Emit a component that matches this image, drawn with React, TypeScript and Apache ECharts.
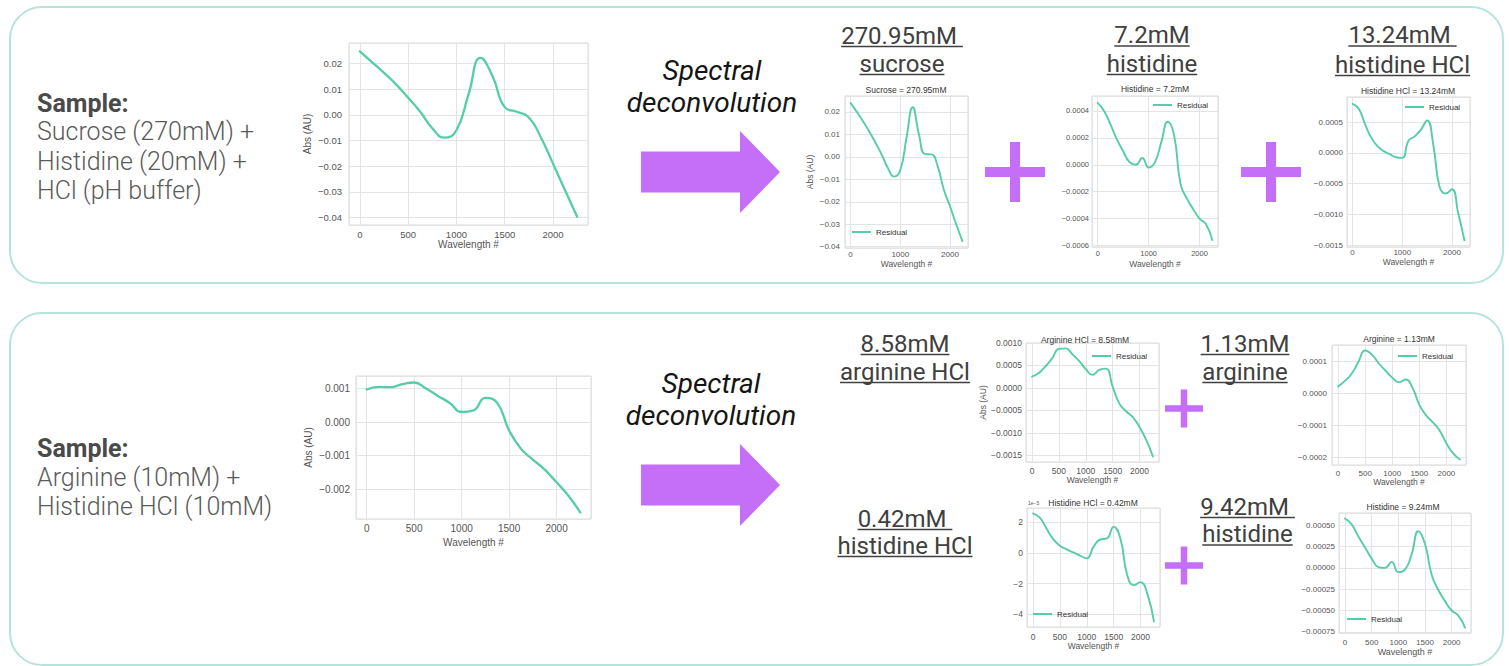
import React, { useEffect, useRef } from 'react';
import * as echarts from 'echarts';

// ---------------- data ----------------
const WAVELENGTHS = [0, 125, 250, 375, 500, 625, 750, 875, 1000, 1125, 1250, 1375, 1500, 1625, 1750, 1875, 2000, 2125, 2250];

// Sample 1: sucrose + histidine + HCl (measured absorbance, AU)
const SAMPLE1_ABS = [0.0248, 0.0206, 0.0164, 0.0119, 0.0067, 0.0012, -0.0052, -0.0089, -0.0060, 0.0080, 0.0222, 0.0150, 0.0030, 0.0012, -0.0010, -0.0088, -0.0190, -0.0294, -0.0397];
const SUCROSE_270_95 = [0.0240, 0.0200, 0.0158, 0.0113, 0.0063, 0.0010, -0.0050, -0.0088, -0.0060, 0.0085, 0.0221, 0.0100, 0.0012, 0.0011, -0.0040, -0.0145, -0.0220, -0.0300, -0.0375];
const HISTIDINE_7_2 = [0.00046, 0.00040, 0.00030, 0.00019, 0.00010, 0.00002, 0.00000, 0.00005, -0.00002, 0.00002, 0.00017, 0.00032, 0.00022, -0.00014, -0.00025, -0.00033, -0.00040, -0.00044, -0.00056];
const HISTIDINE_HCL_13_24 = [0.00080, 0.00072, 0.00047, 0.00025, 0.00011, 0.00003, -0.00002, -0.00007, -0.00008, 0.00020, 0.00027, 0.00038, 0.00053, 0.00013, -0.00055, -0.00066, -0.00059, -0.00098, -0.00142];

// Sample 2: arginine + histidine HCl
const SAMPLE2_ABS = [0.00097, 0.00105, 0.00104, 0.00113, 0.00118, 0.00100, 0.00078, 0.00057, 0.00030, 0.00035, 0.00072, 0.00057, -0.00025, -0.00080, -0.00112, -0.00142, -0.00180, -0.00220, -0.00270];
const ARGININE_HCL_8_58 = [0.00025, 0.00033, 0.00048, 0.00066, 0.00087, 0.00088, 0.00075, 0.00060, 0.00042, 0.00029, 0.00040, 0.00043, 0.00003, -0.00035, -0.00052, -0.00065, -0.00087, -0.00116, -0.00153];
const ARGININE_1_13 = [0.000022, 0.000040, 0.000062, 0.000100, 0.000135, 0.000122, 0.000095, 0.000072, 0.000050, 0.000036, 0.000044, 0.000018, -0.000035, -0.000068, -0.000090, -0.000115, -0.000155, -0.000187, -0.000206];
// in units of 1e-5 AU (axis offset text "1e-5")
const HISTIDINE_HCL_0_42_E5 = [2.58, 2.3, 1.6, 0.9, 0.47, 0.24, 0.04, -0.17, -0.35, 0.4, 0.88, 0.95, 1.7, 0.95, -1.4, -2.1, -1.9, -2.65, -4.47];
const HISTIDINE_9_24 = [0.00058, 0.00051, 0.00037, 0.00024, 0.00011, 0.00001, 0.00000, 0.00007, -0.00005, -0.00002, 0.00016, 0.00043, 0.00028, -0.00008, -0.00026, -0.00039, -0.00050, -0.00056, -0.00070];

const SAMPLE1_LINES = ['Sucrose (270mM) +', 'Histidine (20mM) +', 'HCl (pH buffer)'];
const SAMPLE2_LINES = ['Arginine (10mM) +', 'Histidine HCl (10mM)'];

// ---------------- styles / layout ----------------
const LINE_COLOR = '#55cda8';
const PANEL_COLOR = '#b5e4dc';
const ARROW_COLOR = '#c56ef7';
const GRID_COLOR = '#e4e4e4';
const TICK_COLOR = '#555555';
const CHART_FONT = "'Liberation Sans', Arial, sans-serif";
const UI_FONT = 'Roboto, sans-serif';

type Spec = {
  values: number[];
  grid: { left: number; top: number; width: number; height: number };
  xStep: number; yStep: number; yDec: number;
  font: number; nameFont: number; lw: number;
  title?: string; titleX?: number; titleY?: number;
  legend?: { x: number; y: number };
  yNameCx?: number;
  xNameGap: number; xLabelMargin: number; yLabelMargin: number;
};

const CHARTS: Spec[] = [
  { values: SAMPLE1_ABS, grid: { left: 349, top: 43, width: 239, height: 182 }, xStep: 500, yStep: 0.01, yDec: 2, font: 9.5, nameFont: 10, lw: 2.3, yNameCx: 307.5, xNameGap: 14, xLabelMargin: 4, yLabelMargin: 7 },
  { values: SUCROSE_270_95, grid: { left: 845, top: 96, width: 123, height: 152 }, xStep: 1000, yStep: 0.01, yDec: 2, font: 8, nameFont: 8.5, lw: 1.9, title: 'Sucrose = 270.95mM', titleX: 906, titleY: 90, legend: { x: 852, y: 233 }, yNameCx: 810, xNameGap: 11, xLabelMargin: 2, yLabelMargin: 5 },
  { values: HISTIDINE_7_2, grid: { left: 1092, top: 96, width: 126, height: 151 }, xStep: 1000, yStep: 0.0002, yDec: 4, font: 7.5, nameFont: 8.5, lw: 1.9, title: 'Histidine = 7.2mM', titleX: 1155, titleY: 89, legend: { x: 1153, y: 106 }, xNameGap: 12, xLabelMargin: 2, yLabelMargin: 3 },
  { values: HISTIDINE_HCL_13_24, grid: { left: 1347, top: 97, width: 123, height: 150 }, xStep: 1000, yStep: 0.0005, yDec: 4, font: 8, nameFont: 8.5, lw: 1.9, title: 'Histidine HCl = 13.24mM', titleX: 1408, titleY: 91, legend: { x: 1405, y: 108 }, xNameGap: 8, xLabelMargin: 1.5, yLabelMargin: 4 },
  { values: SAMPLE2_ABS, grid: { left: 356, top: 376, width: 235, height: 143 }, xStep: 500, yStep: 0.001, yDec: 3, font: 10, nameFont: 10, lw: 2.3, yNameCx: 308, xNameGap: 18, xLabelMargin: 4, yLabelMargin: 6 },
  { values: ARGININE_HCL_8_58, grid: { left: 1026, top: 343, width: 133, height: 119 }, xStep: 500, yStep: 0.0005, yDec: 4, font: 8.5, nameFont: 8.5, lw: 1.9, title: 'Arginine HCl = 8.58mM', titleX: 1085, titleY: 340, legend: { x: 1092, y: 357 }, yNameCx: 1003, xNameGap: 11, xLabelMargin: 4, yLabelMargin: 4 },
  { values: ARGININE_1_13, grid: { left: 1332, top: 345, width: 134, height: 120 }, xStep: 500, yStep: 0.0001, yDec: 4, font: 8, nameFont: 8.5, lw: 1.9, title: 'Arginine = 1.13mM', titleX: 1399, titleY: 339, legend: { x: 1398, y: 357 }, xNameGap: 12, xLabelMargin: 4, yLabelMargin: 5 },
  { values: HISTIDINE_HCL_0_42_E5, grid: { left: 1027, top: 508, width: 133, height: 119 }, xStep: 500, yStep: 2, yDec: 0, font: 8.5, nameFont: 8.5, lw: 1.9, title: 'Histidine HCl = 0.42mM', titleX: 1093, titleY: 503, legend: { x: 1033, y: 615 }, xNameGap: 12, xLabelMargin: 5, yLabelMargin: 4 },
  { values: HISTIDINE_9_24, grid: { left: 1339, top: 513, width: 132, height: 120 }, xStep: 500, yStep: 0.00025, yDec: 5, font: 8, nameFont: 9, lw: 1.9, title: 'Histidine = 9.24mM', titleX: 1403, titleY: 507, legend: { x: 1347, y: 620 }, xNameGap: 14, xLabelMargin: 5, yLabelMargin: 4 },
];

const UNDERLINED = [
  { lines: ['270.95mM ', 'sucrose'], cx: 902, baselines: [44, 72] },
  { lines: ['7.2mM', 'histidine'], cx: 1152, baselines: [43.5, 72] },
  { lines: ['13.24mM ', 'histidine HCl'], cx: 1402.5, baselines: [43.5, 73] },
  { lines: ['8.58mM', 'arginine HCl'], cx: 905, baselines: [352, 380] },
  { lines: ['1.13mM', 'arginine'], cx: 1245, baselines: [352, 380] },
  { lines: ['0.42mM ', 'histidine HCl'], cx: 905, baselines: [527, 554] },
  { lines: ['9.42mM ', 'histidine'], cx: 1247.5, baselines: [515, 542.5] },
];

const tickFmt = (step: number, dec: number) => (v: number) => {
  const k = v / step;
  if (Math.abs(k - Math.round(k)) > 1e-6) return '';
  let r = Math.round(k) * step;
  if (Math.abs(r) < step * 1e-6) r = 0;
  return r.toFixed(dec).replace('-', '\u2212');
};

function measure(text: string, font: string): number {
  const c = document.createElement('canvas').getContext('2d');
  if (!c) return text.length * 12;
  c.font = font;
  return c.measureText(text).width;
}

function text(x: number, y: number, t: string, o: any = {}) {
  const align = o.align || 'left';
  return {
    type: 'text', x, y, silent: true, z: 10,
    style: {
      text: t, fill: o.fill || '#555', fontSize: o.fontSize || 24, fontFamily: o.fontFamily || UI_FONT,
      fontWeight: o.fontWeight || 'normal', fontStyle: o.fontStyle || 'normal',
      align, textAlign: align, verticalAlign: 'middle', textVerticalAlign: 'middle',
    },
  };
}

function buildOption() {
  const span = WAVELENGTHS[WAVELENGTHS.length - 1] - WAVELENGTHS[0];
  const xMin = WAVELENGTHS[0] - 0.05 * span;
  const xMax = WAVELENGTHS[WAVELENGTHS.length - 1] + 0.05 * span;
  const grid: any[] = [], xAxis: any[] = [], yAxis: any[] = [], series: any[] = [], title: any[] = [], legend: any[] = [];

  CHARTS.forEach((c, i) => {
    const lo = Math.min(...c.values), hi = Math.max(...c.values);
    const pad = (hi - lo) * 0.05;
    grid.push({ ...c.grid, show: true, borderColor: '#d8d8d8', borderWidth: 1, backgroundColor: '#ffffff' });
    xAxis.push({
      type: 'value', gridIndex: i, min: xMin, max: xMax, minInterval: c.xStep, maxInterval: c.xStep,
      axisLine: { show: false }, axisTick: { show: false },
      splitLine: { show: true, lineStyle: { color: GRID_COLOR, width: 1 } },
      axisLabel: { fontSize: c.font, color: TICK_COLOR, fontFamily: CHART_FONT, margin: c.xLabelMargin, showMinLabel: false, showMaxLabel: false, formatter: tickFmt(c.xStep, 0) },
      name: 'Wavelength #', nameLocation: 'middle', nameGap: c.xNameGap,
      nameTextStyle: { fontSize: c.nameFont, color: TICK_COLOR, fontFamily: CHART_FONT },
    });
    yAxis.push({
      type: 'value', gridIndex: i, min: lo - pad, max: hi + pad, minInterval: c.yStep, maxInterval: c.yStep,
      axisLine: { show: false }, axisTick: { show: false },
      splitLine: { show: true, lineStyle: { color: GRID_COLOR, width: 1 } },
      axisLabel: { fontSize: c.font, color: TICK_COLOR, fontFamily: CHART_FONT, margin: c.yLabelMargin, showMinLabel: false, showMaxLabel: false, formatter: tickFmt(c.yStep, c.yDec) },
      name: c.yNameCx != null ? 'Abs (AU)' : '', nameLocation: 'middle', nameRotate: 90,
      nameGap: c.yNameCx != null ? c.grid.left - c.yNameCx - c.nameFont / 2 : 0,
      nameTextStyle: { fontSize: c.nameFont, color: TICK_COLOR, fontFamily: CHART_FONT },
    });
    series.push({
      type: 'line', name: 'Residual', xAxisIndex: i, yAxisIndex: i, silent: true,
      data: WAVELENGTHS.map((w, k) => [w, c.values[k]]),
      smooth: 0.5, showSymbol: false, symbol: 'none',
      lineStyle: { color: LINE_COLOR, width: c.lw, cap: 'round', join: 'round' }, itemStyle: { color: LINE_COLOR },
    });
    if (c.title) {
      title.push({
        text: c.title, left: c.titleX, top: (c.titleY as number) - 5, textAlign: 'center', padding: 0,
        textStyle: { fontSize: 8.5, fontWeight: 'normal', color: '#333', fontFamily: CHART_FONT },
      });
    }
    if (c.legend) {
      legend.push({
        data: ['Residual'], left: c.legend.x, top: c.legend.y - 5, padding: 0, selectedMode: false,
        icon: 'rect', itemWidth: 19, itemHeight: 2,
        textStyle: { fontSize: 8, color: '#333', fontFamily: CHART_FONT },
      });
    }
  });

  const g: any[] = [];
  // panels
  g.push({ type: 'rect', shape: { x: 10, y: 7, width: 1493, height: 276, r: 32 }, style: { fill: 'none', stroke: PANEL_COLOR, lineWidth: 2 }, silent: true, z: 0 });
  g.push({ type: 'rect', shape: { x: 10, y: 313, width: 1493, height: 352, r: 32 }, style: { fill: 'none', stroke: PANEL_COLOR, lineWidth: 2 }, silent: true, z: 0 });
  // arrows
  [172, 485].forEach((cy) => {
    g.push({
      type: 'polygon', silent: true, z: 5,
      shape: { points: [[641, cy - 20.5], [740, cy - 20.5], [740, cy - 41], [780, cy], [740, cy + 41], [740, cy + 20.5], [641, cy + 20.5]] },
      style: { fill: ARROW_COLOR },
    });
  });
  // plus signs
  const plus = (cx: number, cy: number, arm: number, th: number) => {
    g.push({ type: 'rect', silent: true, z: 5, shape: { x: cx - arm, y: cy - th / 2, width: arm * 2, height: th }, style: { fill: ARROW_COLOR } });
    g.push({ type: 'rect', silent: true, z: 5, shape: { x: cx - th / 2, y: cy - arm, width: th, height: arm * 2 }, style: { fill: ARROW_COLOR } });
  };
  plus(1015, 172, 30, 10);
  plus(1271, 172, 30, 10);
  plus(1184, 408.5, 19, 6.5);
  plus(1184, 565.5, 19, 6.5);

  // sample descriptions
  g.push(text(37, 103, 'Sample:', { fontSize: 25, fontWeight: 'bold', fill: '#4a4a4a' }));
  SAMPLE1_LINES.forEach((t, k) => g.push(text(37, 131.5 + k * 29.5, t, { fontSize: 25, fontWeight: 300, fill: '#5a5a5a' })));
  g.push(text(37, 448, 'Sample:', { fontSize: 25, fontWeight: 'bold', fill: '#4a4a4a' }));
  SAMPLE2_LINES.forEach((t, k) => g.push(text(37, 477 + k * 29, t, { fontSize: 25, fontWeight: 300, fill: '#5a5a5a' })));

  // Spectral deconvolution
  [[712, 70, 102.5], [711, 383.5, 415.5]].forEach(([cx, y1, y2]) => {
    g.push(text(cx, y1, 'Spectral', { fontSize: 28, fontStyle: 'italic', fill: '#151515', align: 'center' }));
    g.push(text(cx, y2, 'deconvolution', { fontSize: 28, fontStyle: 'italic', fill: '#151515', align: 'center' }));
  });

  // underlined component labels
  UNDERLINED.forEach((L) => {
    L.lines.forEach((t, k) => {
      const b = L.baselines[k];
      g.push(text(L.cx, b - 8.2, t, { fontSize: 24, fill: '#404040', align: 'center' }));
      const w = measure(t, '400 24px Roboto');
      g.push({ type: 'line', silent: true, z: 10, shape: { x1: L.cx - w / 2, y1: b + 2.5, x2: L.cx + w / 2, y2: b + 2.5 }, style: { stroke: '#404040', lineWidth: 1.5 } });
    });
  });

  // offset text for scaled axis
  g.push(text(1028, 503, '1e\u22125', { fontSize: 5, fontFamily: CHART_FONT, fill: '#555' }));

  return { animation: false, backgroundColor: '#ffffff', grid, xAxis, yAxis, series, title, legend, graphic: g };
}

export default function App() {
  const ref = useRef<HTMLDivElement>(null);
  useEffect(() => {
    document.body.style.margin = '0';
    const chart = echarts.init(ref.current as HTMLDivElement, undefined, { renderer: 'svg' });
    chart.setOption(buildOption() as any);
    return () => chart.dispose();
  }, []);
  return <div ref={ref} style={{ position: 'absolute', left: 0, top: 0, width: 1509, height: 666, background: '#ffffff' }} />;
}
